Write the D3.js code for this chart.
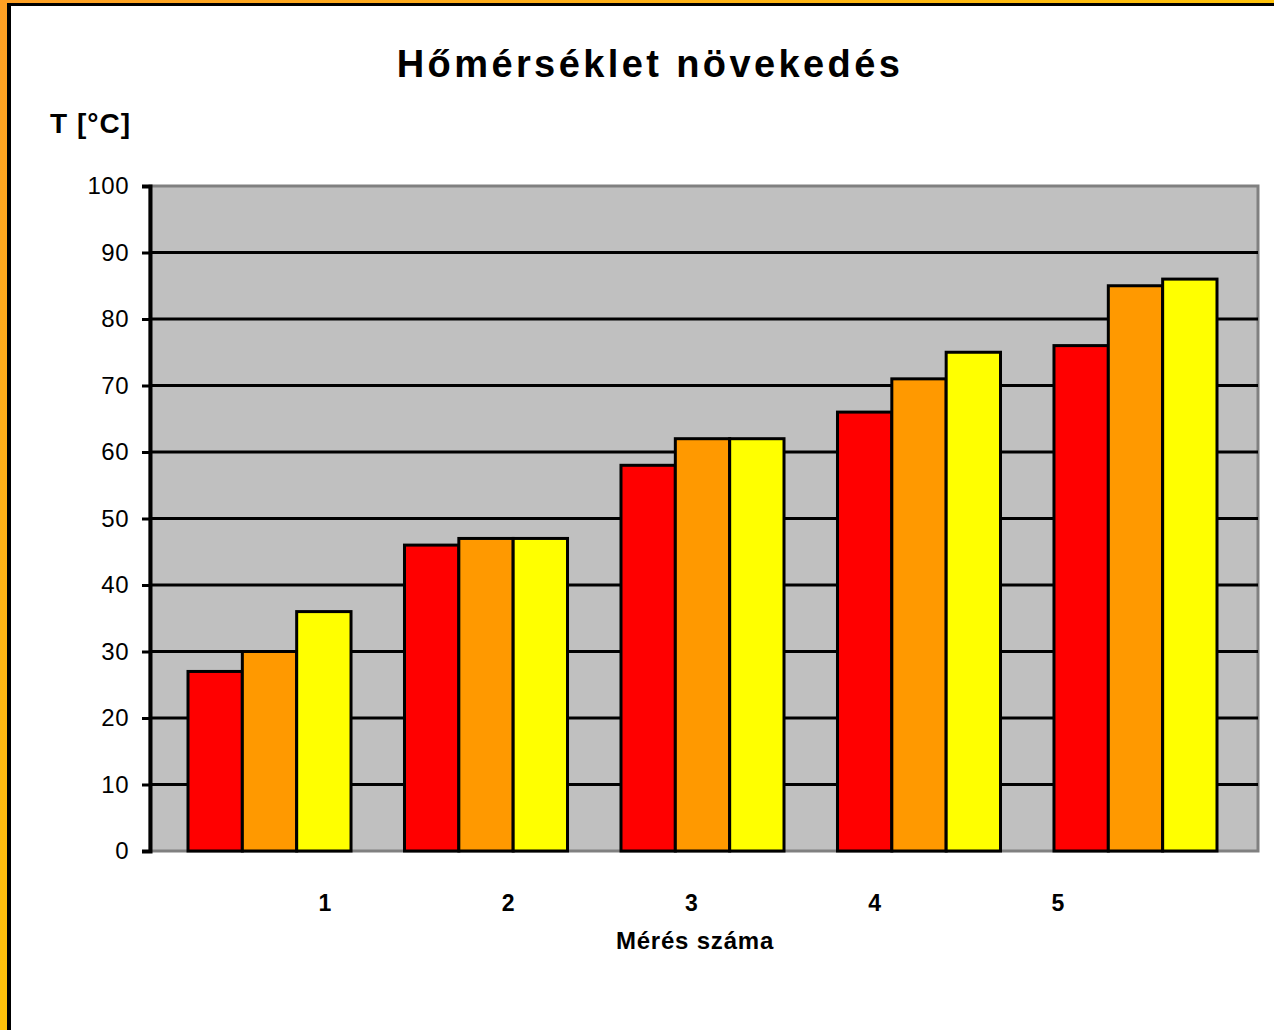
<!DOCTYPE html>
<html>
<head>
<meta charset="utf-8">
<script src="https://cdn.jsdelivr.net/npm/d3@7"></script>
<style>
  body { margin: 0; background: #fff; }
  svg { display: block; font-family: "Liberation Sans", Arial, sans-serif; }
</style>
</head>
<body>
<svg></svg>
<script>
var width = 1274,
    height = 1030,
    margin = {
        left: 150,
        right: 16,
        top: 186,
        bottom: 179
    }

var measurements = ["1", "2", "3", "4", "5"],
    series = ["s1", "s2", "s3"],
    values1 = [27, 46, 58, 66, 76],
    values2 = [30, 47, 62, 71, 85],
    values3 = [36, 47, 62, 75, 86],
    yTicks = [0, 10, 20, 30, 40, 50, 60, 70, 80, 90, 100],
    color = ["#FF0000", "#FF9900", "#FFFF00"]

var plotW = width - margin.left - margin.right,
    plotH = height - margin.top - margin.bottom

var canvas = d3.select("svg").attr("width", width).attr("height", height)

// frame: orange/yellow gradient edge with black line
var defs = canvas.append("defs")
var grad = defs.append("linearGradient").attr("id", "frame")
    .attr("x1", "0").attr("y1", "0").attr("x2", "1").attr("y2", "1")
grad.append("stop").attr("offset", "0").attr("stop-color", "#FFA024")
grad.append("stop").attr("offset", "0.5").attr("stop-color", "#FFC20A")
grad.append("stop").attr("offset", "1").attr("stop-color", "#FFCC00")
canvas.append("rect").attr("width", width).attr("height", height).attr("fill", "url(#frame)")
canvas.append("rect").attr("x", 7).attr("y", 3).attr("width", width).attr("height", height).attr("fill", "#000")
canvas.append("rect").attr("x", 11).attr("y", 6).attr("width", width).attr("height", height).attr("fill", "#fff")

var group = canvas.append("g")
    .attr("transform", "translate(" + margin.left + "," + margin.top + ")")

var yScale = d3.scaleLinear().domain([0, 100]).range([plotH, 0])
var xScale = d3.scaleBand().domain(measurements).range([38, plotW - 41]).paddingInner(0.247).paddingOuter(0)
var xSub = d3.scaleBand().domain(series).range([0, xScale.bandwidth()])
var labelScale = d3.scalePoint().domain(measurements).range([175, 908])

// plot background
group.append("rect").attr("width", plotW).attr("height", plotH)
    .attr("fill", "#C0C0C0").attr("stroke", "#808080").attr("stroke-width", 3)

// gridlines
group.append("g").selectAll("line")
    .data(yTicks.filter(function(d) { return d > 0 && d < 100 }))
    .enter().append("line")
    .attr("x1", 0).attr("x2", plotW)
    .attr("y1", function(d) { return yScale(d) })
    .attr("y2", function(d) { return yScale(d) })
    .attr("stroke", "#000").attr("stroke-width", 3)

// bars
var rows = measurements.map(function(m, i) {
    return { m: m, vals: [values1[i], values2[i], values3[i]] }
})
var gGroups = group.selectAll(".grp").data(rows).enter().append("g")
    .attr("class", "grp")
    .attr("transform", function(d) { return "translate(" + xScale(d.m) + ",0)" })
gGroups.selectAll("rect")
    .data(function(d) { return d.vals.map(function(v, j) { return { s: series[j], v: v, j: j } }) })
    .enter().append("rect")
    .attr("x", function(d) { return xSub(d.s) })
    .attr("y", function(d) { return yScale(d.v) })
    .attr("width", xSub.bandwidth())
    .attr("height", function(d) { return plotH - yScale(d.v) })
    .attr("fill", function(d) { return color[d.j] })
    .attr("stroke", "#000").attr("stroke-width", 3)

// y axis
var yAxis = d3.axisLeft(yScale).tickValues(yTicks).tickSize(8).tickPadding(13)
var ya = group.append("g").attr("class", "y-axis").call(yAxis)
ya.select(".domain").attr("stroke", "#000").attr("stroke-width", 4)
ya.selectAll(".tick line").attr("stroke", "#000").attr("stroke-width", 3)
ya.selectAll("text").attr("font-size", 24).attr("fill", "#000")
    .attr("letter-spacing", 0.5)
    .style("font-family", "'Liberation Sans', Arial, sans-serif")

// x labels
group.append("g").selectAll("text").data(measurements).enter().append("text")
    .attr("x", function(d) { return labelScale(d) })
    .attr("y", plotH + 60)
    .attr("text-anchor", "middle")
    .attr("font-size", 23).attr("font-weight", "bold")
    .text(function(d) { return d })

// titles
canvas.append("text").attr("x", 650).attr("y", 77)
    .attr("text-anchor", "middle").attr("font-size", 38).attr("font-weight", "bold")
    .attr("letter-spacing", 3.4)
    .text("Hőmérséklet növekedés")
canvas.append("text").attr("x", 50).attr("y", 133)
    .attr("font-size", 28).attr("font-weight", "bold").attr("letter-spacing", 1)
    .text("T [°C]")
canvas.append("text").attr("x", 695).attr("y", 949)
    .attr("text-anchor", "middle").attr("font-size", 24).attr("font-weight", "bold")
    .attr("letter-spacing", 0.8)
    .text("Mérés száma")
</script>
</body>
</html>
